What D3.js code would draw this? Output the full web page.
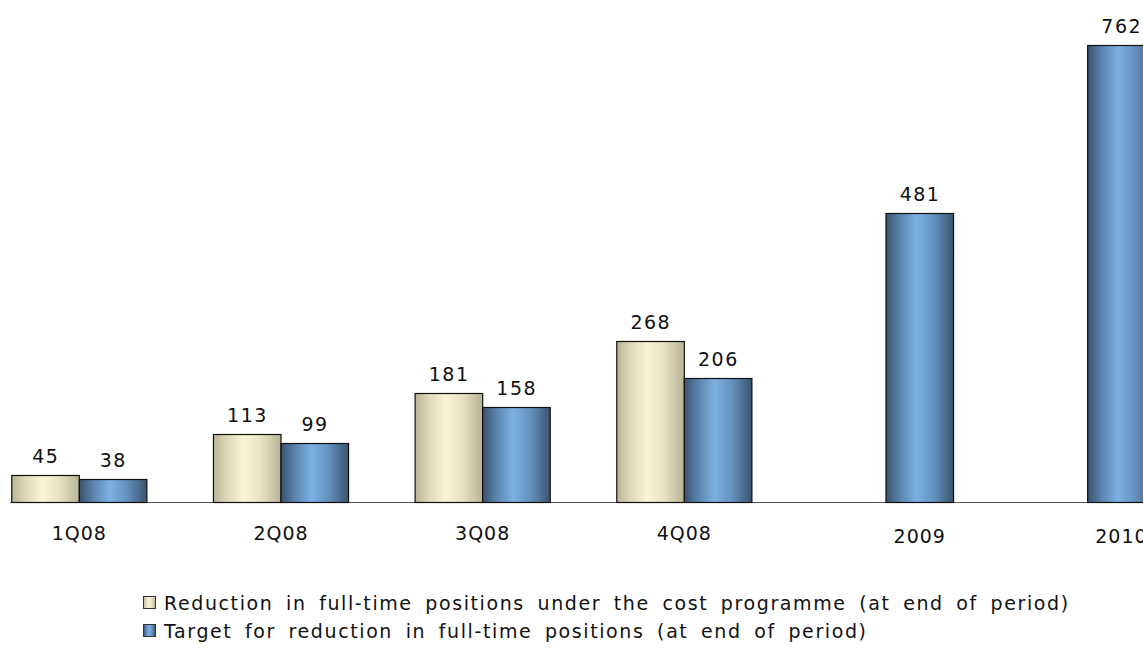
<!DOCTYPE html>
<html>
<head>
<meta charset="utf-8">
<script src="https://cdn.jsdelivr.net/npm/d3@7"></script>
<style>
  body { margin: 0; background: #fff; }
  svg { display: block; font-family: "DejaVu Sans", Verdana, sans-serif; }
</style>
</head>
<body>
<svg id="chart" width="1143" height="653"></svg>
<script>
// Chart data
const categories = ["1Q08", "2Q08", "3Q08", "4Q08", "2009", "2010"];
const reduction = [45, 113, 181, 268, null, null];
const target = [38, 99, 158, 206, 481, 762];
const seriesNames = [
  "Reduction in full-time positions under the cost programme (at end of period)",
  "Target for reduction in full-time positions (at end of period)"
];

const svg = d3.select("#chart");
const baseY = 502;

// Gradients for the cylinder-ish bars
const defs = svg.append("defs");
function addGradient(id, stops) {
  const g = defs.append("linearGradient").attr("id", id)
    .attr("x1", "0%").attr("x2", "100%").attr("y1", "0%").attr("y2", "0%");
  stops.forEach(s => g.append("stop").attr("offset", s[0]).attr("stop-color", s[1]));
}
addGradient("beige", [["0%", "#b9b497"], ["20%", "#dcd8b8"], ["45%", "#f8f4d6"], ["70%", "#e6e2c2"], ["100%", "#b8b396"]]);
addGradient("blue", [["0%", "#3a526c"], ["20%", "#5a82ad"], ["45%", "#7cb1e4"], ["70%", "#6592c0"], ["100%", "#3b546e"]]);

const x = d3.scaleBand().domain(categories).range([-22, 1188])
  .paddingInner(0.33).paddingOuter(0.165);
const x1 = d3.scaleBand().domain([0, 1]).range([0, x.bandwidth()]);
const y = d3.scaleLinear().domain([0, 800]).range([baseY, 22]);

const rows = categories.map((c, i) => ({ cat: c, vals: [reduction[i], target[i]] }));
const fills = ["url(#beige)", "url(#blue)"];

// Axis line
svg.append("line")
  .attr("x1", 10).attr("x2", 1143)
  .attr("y1", baseY + 0.5).attr("y2", baseY + 0.5)
  .attr("stroke", "#555").attr("stroke-width", 1);

const groups = svg.selectAll("g.grp").data(rows).enter().append("g")
  .attr("class", "grp")
  .attr("transform", d => `translate(${x(d.cat)},0)`);

groups.selectAll("rect")
  .data(d => d.vals.map((v, k) => ({ v, k })).filter(e => e.v != null))
  .enter().append("rect")
  .attr("x", e => x1(e.k) + 0.5)
  .attr("width", x1.bandwidth())
  .attr("y", e => Math.round(y(e.v)) + 0.5)
  .attr("height", e => baseY - Math.round(y(e.v)))
  .attr("fill", e => fills[e.k])
  .attr("stroke", "#111").attr("stroke-width", 1.2);

groups.selectAll("text.val")
  .data(d => d.vals.map((v, k) => ({ v, k })).filter(e => e.v != null))
  .enter().append("text")
  .attr("class", "val")
  .attr("x", e => x1(e.k) + x1.bandwidth() / 2 + 0.75)
  .attr("y", e => y(e.v) - 12)
  .attr("text-anchor", "middle")
  .attr("font-size", 19)
  .attr("letter-spacing", 1.5)
  .attr("fill", "#111")
  .text(e => e.v);

// Category labels: centered on the group, or on the single bar when only one series
groups.append("text")
  .attr("x", d => (d.vals[0] == null ? x1(1) + x1.bandwidth() / 2 : x.bandwidth() / 2) + 0.5)
  .attr("y", d => d.vals[0] == null ? 543 : 540)
  .attr("text-anchor", "middle")
  .attr("font-size", 19)
  .attr("letter-spacing", 1)
  .attr("fill", "#111")
  .text(d => d.cat);

// Legend
const legend = svg.append("g").attr("transform", "translate(143,0)");
seriesNames.forEach((name, i) => {
  const ly = 603 + i * 28;
  legend.append("rect")
    .attr("x", 0.5).attr("y", ly - 6.5)
    .attr("width", 12).attr("height", 12)
    .attr("fill", fills[i]).attr("stroke", "#333");
  legend.append("text")
    .attr("x", 21).attr("y", ly + 7)
    .attr("font-size", 19)
    .attr("letter-spacing", 1.6)
    .attr("word-spacing", 5)
    .attr("fill", "#111")
    .text(name);
});
</script>
</body>
</html>
